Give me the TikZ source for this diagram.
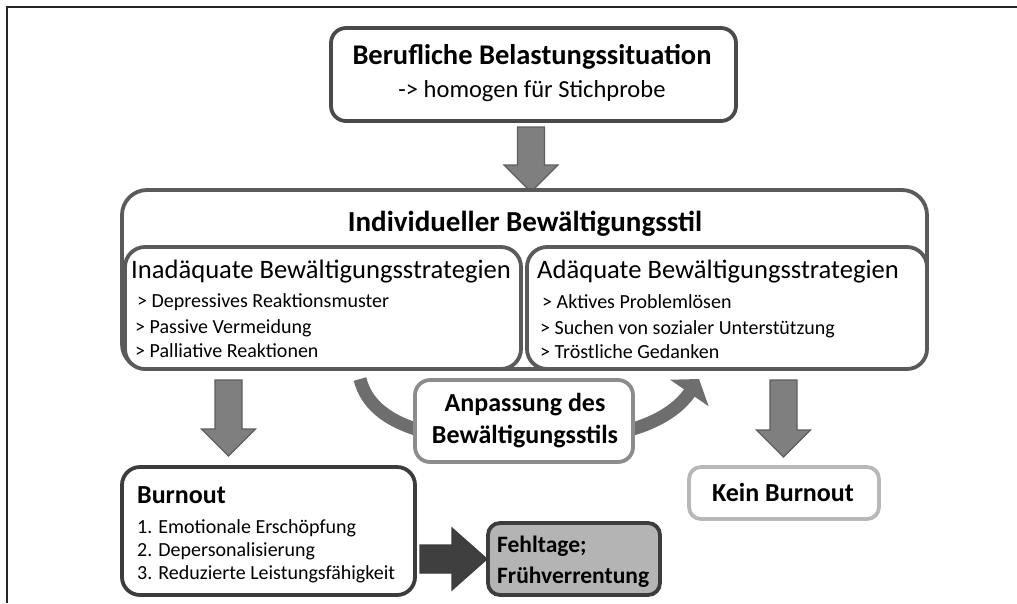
\documentclass[tikz,border=0pt]{standalone}
\usepackage{fontspec}
\setmainfont{Carlito}
\usetikzlibrary{arrows.meta}
\definecolor{bordDark}{HTML}{4A4A4A}
\definecolor{bordMid}{HTML}{5A5A5A}
\definecolor{bordLight}{HTML}{8C8C8C}
\definecolor{bordPale}{HTML}{B8B8B8}
\definecolor{bordBlack}{HTML}{3C3C3C}
\definecolor{arrFill}{HTML}{7F7F7F}
\definecolor{arrEdge}{HTML}{5E5E5E}
\definecolor{curveFill}{HTML}{6E6E6E}
\definecolor{darkArr}{HTML}{3F3F3F}
\definecolor{greyFill}{HTML}{B4B4B4}
\begin{document}
\begin{tikzpicture}[x=1pt,y=-1pt,
  box/.style={draw=bordMid,line width=3.8pt,fill=white,rounded corners=#1,inner sep=0pt},
  box/.default=18pt,
  boldA/.style={font=\fontsize{29}{33}\selectfont\bfseries,inner sep=0pt},
  boldB/.style={font=\fontsize{26}{30}\selectfont\bfseries,inner sep=0pt},
  regA/.style={font=\fontsize{26.6}{31}\selectfont,inner sep=0pt},
  item/.style={font=\fontsize{20}{23}\selectfont,inner sep=0pt,anchor=base west},
  blockarr/.style={fill=arrFill,draw=arrEdge,line width=1.2pt,line join=miter},
  pics/downarr/.style={code={\draw[blockarr] (-13.5,0) -- (13.5,0) -- (13.5,#1) -- (27,#1) -- (0,#1+27) -- (-27,#1) -- (-13.5,#1) -- cycle;}},
  pics/rightarr/.style={code={\draw[fill=darkArr,draw=bordBlack,line width=1.2pt,line join=miter] (0,-14) -- (32,-14) -- (32,-31) -- (67,0) -- (32,31) -- (32,14) -- (0,14) -- cycle;}}
]
\useasboundingbox (0,0) rectangle (1017,603);
% frame
\draw[line width=2pt,color=black!85] (6.5,603) -- (6.5,7) -- (1017,7);

% top box
\node[box=15pt,draw=bordDark,minimum width=405pt,minimum height=93pt] (top) at (533.5,74.5) {};
\node[boldA,font=\fontsize{28.5}{33}\selectfont\bfseries,anchor=base] (topT1) at (532,64) {Berufliche Belastungssituation};
\node[regA,font=\fontsize{24.5}{30}\selectfont,anchor=base] (topT2) at (532,97) {-> homogen für Stichprobe};

\pic (arrTop) at (531,127) {downarr=38};

% main box
\node[box=25pt,minimum width=805pt,minimum height=179pt] (indiv) at (524.5,279.5) {};
\node[boldA,anchor=base] (indivT) at (525,231) {Individueller Bewältigungsstil};

\node[box=20pt,minimum width=396pt,minimum height=122pt] (inad) at (323,308) {};
\node[regA,anchor=base west] (inadT) at (131,278) {Inadäquate Bewältigungsstrategien};
\node[item] (inad1) at (137,307) {> Depressives Reaktionsmuster};
\node[item] (inad2) at (135,333) {> Passive Vermeidung};
\node[item] (inad3) at (135,357) {> Palliative Reaktionen};

\node[box=20pt,minimum width=400pt,minimum height=122pt] (adaq) at (727,308) {};
\node[regA,anchor=base west] (adaqT) at (537,278) {Adäquate Bewältigungsstrategien};
\node[item] (adaq1) at (542,308) {> Aktives Problemlösen};
\node[item] (adaq2) at (540,334) {> Suchen von sozialer Unterstützung};
\node[item] (adaq3) at (540,358) {> Tröstliche Gedanken};

% arrows down
\pic (arrLeft) at (228.5,380) {downarr=49};
\pic (arrRight) at (783.5,380) {downarr=50};

% curved arrow
\coordinate (cStart) at (360,379);
\coordinate (cEnd) at (699,379);
\draw[curveFill,line width=13pt,-{Triangle[length=17pt,width=46pt]}]
  (cStart) .. controls (372,428) and (440,442) .. (525,442)
           .. controls (615,442) and (668,424) .. (cEnd);

% Anpassung
\node[box=15pt,draw=bordLight,minimum width=218pt,minimum height=82pt] (anp) at (524,421) {};
\node[boldB,anchor=base] (anpT1) at (525,411) {Anpassung des};
\node[boldB,anchor=base] (anpT2) at (525,443) {Bewältigungsstils};

% Burnout
\node[box=18pt,draw=bordBlack,minimum width=293pt,minimum height=128pt] (burn) at (268.5,531) {};
\node[boldB,anchor=base west] (burnT) at (137,503) {Burnout};
\node[item] (burn1) at (137,533) {1. Emotionale Erschöpfung};
\node[item] (burn2) at (137,556) {2. Depersonalisierung};
\node[item] (burn3) at (137,579) {3. Reduzierte Leistungsfähigkeit};

\pic (arrDark) at (420,559) {rightarr};

% Fehltage
\node[box=12pt,draw=bordBlack,fill=greyFill,minimum width=172pt,minimum height=72pt] (fehl) at (574,559) {};
\node[font=\fontsize{23.5}{28}\selectfont\bfseries,inner sep=0pt,anchor=base west] (fehlT1) at (497,552) {Fehltage;};
\node[font=\fontsize{23.5}{28}\selectfont\bfseries,inner sep=0pt,anchor=base west] (fehlT2) at (497,583) {Frühverrentung};

% Kein Burnout
\node[box=12pt,draw=bordPale,minimum width=190pt,minimum height=52pt] (kein) at (784,493) {};
\node[boldB,anchor=base] (keinT) at (783,501) {Kein Burnout};
\end{tikzpicture}
\end{document}
